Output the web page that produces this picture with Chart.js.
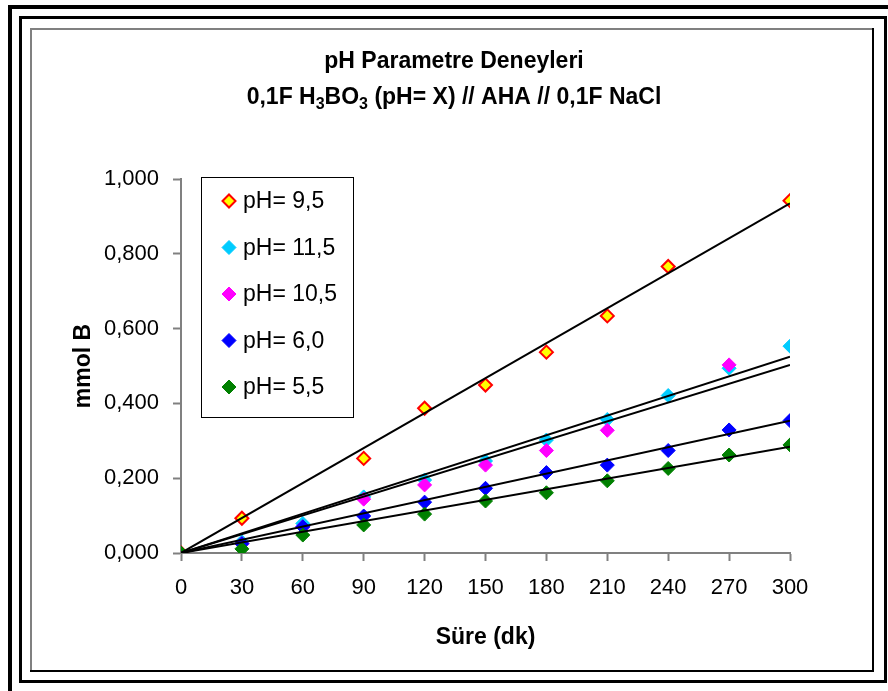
<!DOCTYPE html>
<html>
<head>
<meta charset="utf-8">
<title>pH Parametre Deneyleri</title>
<script src="https://cdn.jsdelivr.net/npm/chart.js@4.4.0/dist/chart.umd.min.js"></script>
<style>
  html, body { margin: 0; padding: 0; background: #fff; }
  #wrap { position: relative; width: 888px; height: 691px; }
</style>
</head>
<body>
<div id="wrap"><canvas id="chartPH" width="888" height="691"></canvas></div>
<script>
// --- veriler ---
const sureDk = [0, 30, 60, 90, 120, 150, 180, 210, 240, 270, 300];
const seriesNames = ['pH= 9,5', 'pH= 11,5', 'pH= 10,5', 'pH= 6,0', 'pH= 5,5'];
const ph95  = [0, 0.093, null, 0.253, 0.387, 0.449, 0.537, 0.634, 0.766, null, 0.942];
const ph115 = [0, 0.030, 0.079, 0.150, 0.195, 0.246, 0.302, 0.357, 0.421, 0.494, 0.553];
const ph105 = [0, 0.025, 0.070, 0.144, 0.182, 0.235, 0.274, 0.328, null, 0.503, null];
const ph60  = [0, 0.025, 0.070, 0.099, 0.136, 0.173, 0.215, 0.235, 0.274, 0.329, 0.354];
const ph55  = [0, 0.011, 0.048, 0.075, 0.104, 0.139, 0.161, 0.193, 0.226, 0.262, 0.289];
// trend cizgileri: orijinden 300 dk'daki degere
const trendEnd = [0.935, 0.525, 0.503, 0.354, 0.284];
const yTickLabels = ['0,000', '0,200', '0,400', '0,600', '0,800', '1,000'];
const xTickLabels = ['0', '30', '60', '90', '120', '150', '180', '210', '240', '270', '300'];

const fillColors   = ['#FFFF00', '#00CCFF', '#FF00FF', '#0000FF', '#008000'];
const borderColors = ['#FF0000', '#00CCFF', '#FF00FF', '#0000FF', '#008000'];

const FONT = "'Liberation Sans', Arial, sans-serif";

const seriesData = [ph95, ph115, ph105, ph60, ph55];
const datasets = [];
seriesData.forEach((vals, i) => {
    datasets.push({
        type: 'scatter',
        label: seriesNames[i],
        data: sureDk.map((x, k) => ({ x: x, y: vals[k] })).filter(p => p.y !== null),
        backgroundColor: fillColors[i],
        borderColor: borderColors[i],
        borderWidth: i === 0 ? 2 : 1,
        pointStyle: 'rectRot',
        pointRadius: i === 0 ? 6.5 : 7,
        pointHoverRadius: i === 0 ? 6.5 : 7,
        order: 10 - i
    });
    datasets.push({
        type: 'line',
        label: 'trend ' + seriesNames[i],
        data: [{ x: 0, y: 0 }, { x: 300, y: trendEnd[i] }],
        borderColor: '#000000',
        borderWidth: 2,
        pointRadius: 0,
        fill: false,
        order: 0
    });
});

// cerceveler
const framePlugin = {
    id: 'frames',
    beforeDraw(chart) {
        const ctx = chart.ctx;
        ctx.save();
        ctx.fillStyle = '#ffffff';
        ctx.fillRect(0, 0, chart.width, chart.height);
        ctx.fillStyle = '#000000';
        // kalin dis cizgi
        ctx.fillRect(8, 5, 4, 686);
        ctx.fillRect(8, 5, 880, 4);
        // ikinci cerceve
        ctx.fillRect(19, 16, 3, 667);
        ctx.fillRect(19, 16, 868, 3);
        ctx.fillRect(884, 16, 3, 667);
        ctx.fillRect(19, 680, 868, 3);
        // grafik alani cercevesi
        ctx.fillStyle = '#808080';
        ctx.fillRect(30, 28, 2, 643);
        ctx.fillRect(30, 28, 844, 2);
        ctx.fillStyle = '#000000';
        ctx.fillRect(872, 28, 2, 644);
        ctx.fillRect(30, 670, 844, 2);
        ctx.restore();
    }
};

function drawRich(ctx, parts, cx, y, size) {
    const mainFont = 'bold ' + size + 'px ' + FONT;
    const subFont = 'bold ' + Math.round(size * 0.68) + 'px ' + FONT;
    let total = 0;
    parts.forEach(p => {
        ctx.font = p[1] ? subFont : mainFont;
        total += ctx.measureText(p[0]).width;
    });
    let x = cx - total / 2;
    ctx.textAlign = 'left';
    ctx.textBaseline = 'middle';
    parts.forEach(p => {
        ctx.font = p[1] ? subFont : mainFont;
        ctx.fillText(p[0], x, p[1] ? y + 7 : y);
        x += ctx.measureText(p[0]).width;
    });
}

const titlePlugin = {
    id: 'richTitle',
    afterDraw(chart) {
        const ctx = chart.ctx;
        ctx.save();
        ctx.fillStyle = '#000000';
        drawRich(ctx, [['pH Parametre Deneyleri', 0]], 454, 62, 23);
        drawRich(ctx, [['0,1F H', 0], ['3', 1], ['BO', 0], ['3', 1], [' (pH= X) // AHA // 0,1F NaCl', 0]], 454, 98, 23);
        ctx.restore();
    }
};

const legendPlugin = {
    id: 'boxLegend',
    afterDraw(chart) {
        const ctx = chart.ctx;
        ctx.save();
        ctx.fillStyle = '#ffffff';
        ctx.fillRect(201, 177, 152, 240);
        ctx.strokeStyle = '#000000';
        ctx.lineWidth = 1;
        ctx.strokeRect(201.5, 177.5, 152, 240);
        ctx.font = '23px ' + FONT;
        ctx.textAlign = 'left';
        ctx.textBaseline = 'middle';
        seriesNames.forEach((name, i) => {
            const y = 201 + i * 46.5;
            ctx.fillStyle = fillColors[i];
            ctx.strokeStyle = borderColors[i];
            ctx.lineWidth = i === 0 ? 2 : 1;
            Chart.helpers.drawPoint(ctx, {
                pointStyle: 'rectRot',
                radius: i === 0 ? 6.5 : 7,
                borderWidth: i === 0 ? 2 : 1
            }, 229, y);
            ctx.fillStyle = '#000000';
            ctx.fillText(name, 243, y + 1);
        });
        ctx.restore();
    }
};

new Chart(document.getElementById('chartPH'), {
    type: 'scatter',
    data: { datasets: datasets },
    options: {
        responsive: false,
        animation: false,
        devicePixelRatio: 1,
        layout: { padding: { top: 179, right: 98, bottom: 0, left: 0 } },
        plugins: {
            legend: { display: false },
            title: { display: false },
            tooltip: { enabled: false }
        },
        scales: {
            x: {
                type: 'linear',
                min: 0,
                max: 300,
                ticks: {
                    stepSize: 30,
                    color: '#000000',
                    padding: 14,
                    font: { family: FONT, size: 22 },
                    callback: function(value, index) { return xTickLabels[index]; }
                },
                grid: {
                    drawOnChartArea: false,
                    drawTicks: true,
                    tickLength: 8,
                    tickColor: '#808080',
                    tickWidth: 2
                },
                border: { color: '#808080', width: 2 },
                title: {
                    display: true,
                    text: 'Süre (dk)',
                    color: '#000000',
                    font: { family: FONT, size: 23, weight: 'bold' },
                    padding: { top: 0, bottom: 40 }
                },
                afterFit: function(scale) { scale.height = 138; }
            },
            y: {
                type: 'linear',
                min: 0,
                max: 1,
                ticks: {
                    stepSize: 0.2,
                    color: '#000000',
                    padding: 14,
                    font: { family: FONT, size: 22 },
                    callback: function(value) { return yTickLabels[Math.round(value / 0.2)]; }
                },
                grid: {
                    drawOnChartArea: false,
                    drawTicks: true,
                    tickLength: 8,
                    tickColor: '#808080',
                    tickWidth: 2
                },
                border: { color: '#808080', width: 2 },
                title: {
                    display: true,
                    text: 'mmol B',
                    color: '#000000',
                    font: { family: FONT, size: 23, weight: 'bold' },
                    padding: { top: 70, bottom: 0 }
                },
                afterFit: function(scale) { scale.width = 181; }
            }
        }
    },
    plugins: [framePlugin, titlePlugin, legendPlugin]
});
</script>
</body>
</html>
